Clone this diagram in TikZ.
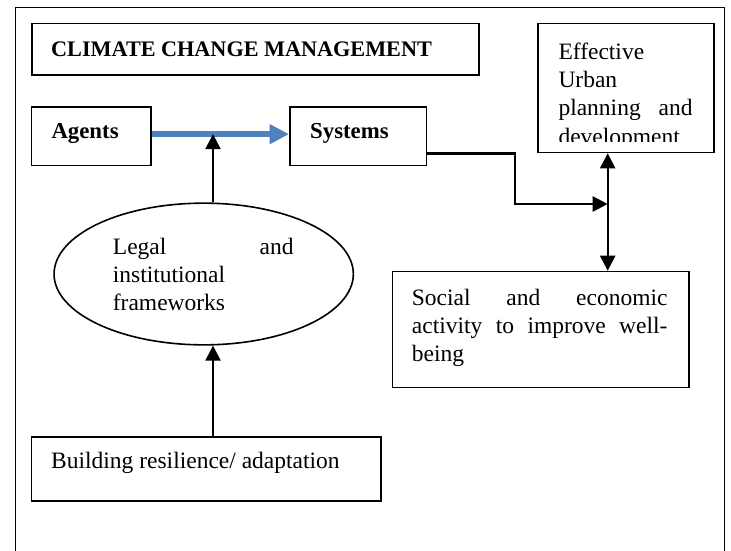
\documentclass[tikz,border=0pt]{standalone}
\usepackage{fontspec}
\setmainfont{Liberation Serif}
\usetikzlibrary{arrows.meta,shapes.geometric}
\definecolor{arrowblue}{HTML}{4F81BD}
\tikzset{
  frame/.style={line width=1.3pt},
  box/.style={draw, line width=1.6pt, inner sep=0pt, anchor=north west},
  label/.style={inner sep=0pt, anchor=base west, font=\fontsize{23.5}{28.3}\selectfont},
  boldlabel/.style={label, font=\fontsize{22.8}{28.3}\selectfont\bfseries},
  conn/.style={line width=2.4pt, -{Triangle[length=15pt,width=15pt]}},
  biconn/.style={line width=2.4pt, {Triangle[length=15pt,width=15pt]}-{Triangle[length=15pt,width=15pt]}},
  bluearrow/.style={draw=arrowblue, line width=6pt, -{Triangle[length=19.5pt,width=19pt]}, arrowblue}
}
\begin{document}
\begin{tikzpicture}[x=1pt,y=-1pt]
\useasboundingbox[fill=white] (0,0) rectangle (731,550);

% page frame, open at the bottom
\draw[frame] (15.4,551) -- (15.4,7.3) -- (724.3,7.3) -- (724.3,551);

% boxes
\node[box, minimum width=447pt, minimum height=51.3pt] (title) at (31,22.7) {};
\node[box, minimum width=176pt, minimum height=129pt] (effective) at (537.3,22.7) {};
\node[box, minimum width=119.2pt, minimum height=58.7pt] (agents) at (30.8,106) {};
\node[box, minimum width=136.5pt, minimum height=58.7pt] (systems) at (289,106) {};
\node[draw, ellipse, line width=1.6pt, inner sep=0pt, minimum width=299.3pt, minimum height=141.7pt] (legal) at (203.7,274) {};
\node[box, minimum width=296.3pt, minimum height=116pt] (social) at (391.7,270.7) {};
\node[box, minimum width=349.2pt, minimum height=64pt] (building) at (30.8,436) {};

% texts
\node[boldlabel, font=\fontsize{22.2}{28.3}\selectfont\bfseries] (titletext) at (51,56) {CLIMATE CHANGE MANAGEMENT};
\node[boldlabel] (agentstext) at (51.3,138.3) {Agents};
\node[boldlabel] (systemstext) at (310,138.3) {Systems};
\node[label] (legaltext) at (112.7,254) {\parbox[t]{180.6pt}{\raggedright Legal\hfill and\\institutional\\frameworks}};
\node[label] (socialtext) at (411.7,305) {\parbox[t]{255.6pt}{\raggedright Social\hfill and\hfill economic\\activity\hfill to\hfill improve\hfill well-\\being}};
\node[label] (buildingtext) at (51,468.3) {Building resilience/ adaptation};
\begin{scope}
  \clip (537.3,22.7) rectangle (713.3,141);
  \node[label] (effectivetext) at (558.3,59.3) {\parbox[t]{134pt}{\raggedright Effective\\Urban\\planning\hfill and\\development}};
\end{scope}

% connectors
\coordinate (spine) at (213,0);
\coordinate (junction) at (607.7,204);
\draw[bluearrow] ([yshift=2pt]agents.east) -- ([yshift=2pt]systems.west);
\draw[conn] (legal.north -| spine) -- ([yshift=2pt]agents.east -| spine);
\draw[conn] (building.north -| spine) -- (legal.south -| spine);
\draw[conn] (systems.east |- effective.south) -- ++(87.6,0) |- (junction);
\draw[biconn] (effective.south -| junction) -- (social.north -| junction);
\end{tikzpicture}
\end{document}
